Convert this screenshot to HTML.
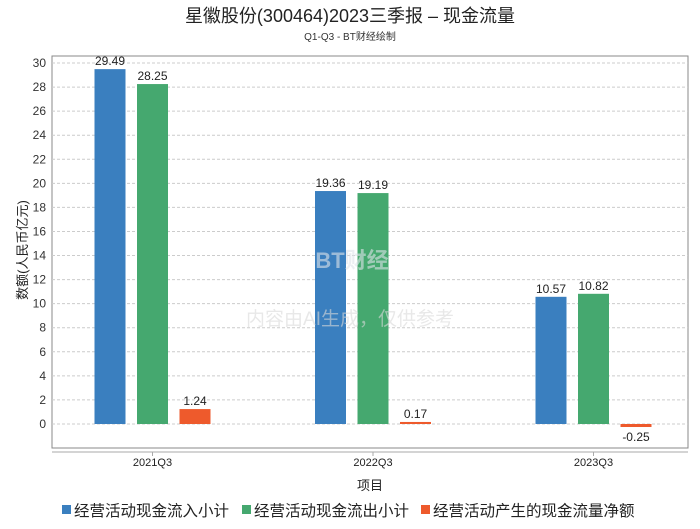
<!DOCTYPE html>
<html><head><meta charset="utf-8"><style>
body{margin:0;background:#fff;font-family:"Liberation Sans","Noto Sans CJK SC",sans-serif;}
</style></head><body>
<svg id="c" width="700" height="524" xmlns="http://www.w3.org/2000/svg" style="font-family:'Liberation Sans','Noto Sans CJK SC',sans-serif">
<text x="350" y="22" text-anchor="middle" font-size="18" fill="#222">星徽股份(300464)2023三季报 – 现金流量</text>
<text x="350" y="40" text-anchor="middle" font-size="10" fill="#333">Q1-Q3 - BT财经绘制</text>
<rect x="52" y="56" width="636" height="392" fill="none" stroke="#888"/>
<line x1="52" y1="452" x2="688" y2="452" stroke="#aaa"/>
<g id="grid"></g><g id="bars"></g>
<text x="352" y="268" text-anchor="middle" font-size="22" fill="#dde3ea" fill-opacity="0.6" font-weight="bold">BT财经</text>
<text x="350" y="325" text-anchor="middle" font-size="19" fill="#d8d8d8" fill-opacity="0.6">内容由AI生成，仅供参考</text>
<text x="27" y="250" text-anchor="middle" font-size="13" fill="#222" transform="rotate(-90 27 250)">数额(人民币亿元)</text>
<text x="370" y="490" text-anchor="middle" font-size="13" fill="#222">项目</text>
<g id="legend"></g>
</svg>
<script>
const categories=["2021Q3","2022Q3","2023Q3"];
const seriesNames=["经营活动现金流入小计","经营活动现金流出小计","经营活动产生的现金流量净额"];
const inflow=[29.49,19.36,10.57];
const outflow=[28.25,19.19,10.82];
const net=[1.24,0.17,-0.25];
const yTicks=[0,2,4,6,8,10,12,14,16,18,20,22,24,26,28,30];
const colors=["#3a7fbf","#45a86f","#ee5a2c"];
const NS="http://www.w3.org/2000/svg";
const y=v=>424-v*(424-63)/30;
const xc=i=>152.5+i*220.5;
function mk(t,a,p){const e=document.createElementNS(NS,t);for(const k in a)e.setAttribute(k,a[k]);p.appendChild(e);return e;}
const grid=document.getElementById('grid');
yTicks.forEach(v=>{
 const l=mk('line',{x1:52,x2:688,y1:y(v),y2:y(v),stroke:'#ccc','stroke-dasharray':'3,2'},grid);
 
 
 const t=mk('text',{x:46,y:y(v)+4,'text-anchor':'end','font-size':12,fill:'#333'},grid);t.textContent=v;
 
 
});
const bars=document.getElementById('bars');
const series=[inflow,outflow,net];
categories.forEach((c,i)=>{
 const tk=mk('line',{x1:xc(i),x2:xc(i),y1:452,y2:456,stroke:'#aaa'},bars);
 
 
 const t=mk('text',{x:xc(i),y:466,'text-anchor':'middle','font-size':11,fill:'#222'},bars);t.textContent=c;
 
 
 series.forEach((s,j)=>{
  const v=s[i],cx=xc(i)+(j-1)*42.5;
  const r=mk('rect',{x:cx-15.5,width:31,y:Math.min(y(v),y(0)),height:Math.abs(y(v)-y(0)),fill:colors[j]},bars);
  
  
  const lb=mk('text',{x:cx,y:v>=0?y(v)-4:y(v)+14,'text-anchor':'middle','font-size':12,fill:'#222'},bars);lb.textContent=v.toFixed(2);
  
  
 });
});
const lg=document.getElementById('legend');
const lx=[62,242,421];
seriesNames.forEach((n,j)=>{
 const g=mk('g',{},lg);
 
 
 mk('rect',{x:lx[j],y:505,width:9,height:9,fill:colors[j]},g);
 const t=mk('text',{x:lx[j]+12,y:516,'font-size':15.5,fill:'#222'},g);t.textContent=n;
});
</script>
</body></html>
